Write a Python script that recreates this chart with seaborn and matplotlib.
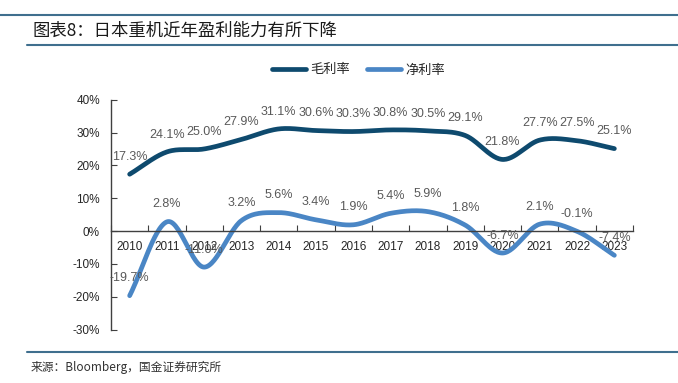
import numpy as np
import pandas as pd
import seaborn as sns
import matplotlib.pyplot as plt
from matplotlib.lines import Line2D
from matplotlib.ticker import FixedLocator, FuncFormatter

# data
years = ['2010', '2011', '2012', '2013', '2014', '2015', '2016',
         '2017', '2018', '2019', '2020', '2021', '2022', '2023']
gross_margin = [17.3, 24.1, 25.0, 27.9, 31.1, 30.6, 30.3, 30.8, 30.5, 29.1, 21.8, 27.7, 27.5, 25.1]
net_margin = [-19.7, 2.8, -11.0, 3.2, 5.6, 3.4, 1.9, 5.4, 5.9, 1.8, -6.7, 2.1, -0.1, -7.4]
series_names = ['毛利率', '净利率']
colors = ['#0E4A6E', '#4A86C5']
y_ticks = [-30, -20, -10, 0, 10, 20, 30, 40]

sns.set_style('ticks')
plt.rcParams['font.family'] = ['Liberation Sans', 'Noto Sans CJK SC', 'DejaVu Sans']
plt.rcParams['axes.unicode_minus'] = False


def smooth(vals, n=30):
    # catmull-rom style smoothing like excel's "smoothed line"
    p = np.array(vals, dtype=float)
    p = np.concatenate([[2 * p[0] - p[1]], p, [2 * p[-1] - p[-2]]])
    xs, ys = [], []
    for i in range(1, len(p) - 2):
        t = np.linspace(0, 1, n, endpoint=False)
        p0, p1, p2, p3 = p[i - 1], p[i], p[i + 1], p[i + 2]
        y = 0.5 * ((2 * p1) + (-p0 + p2) * t + (2 * p0 - 5 * p1 + 4 * p2 - p3) * t ** 2
                   + (-p0 + 3 * p1 - 3 * p2 + p3) * t ** 3)
        xs.extend(i - 1 + t)
        ys.extend(y)
    xs.append(len(vals) - 1)
    ys.append(vals[-1])
    return np.array(xs), np.array(ys)


fig = plt.figure(figsize=(6.78, 3.83), dpi=100)
ax = fig.add_axes([111 / 678, 1 - 329.5 / 383, (633 - 111) / 678, (329.5 - 99.7) / 383])

for name, vals, c in zip(series_names, [gross_margin, net_margin], colors):
    sx, sy = smooth(vals)
    df = pd.DataFrame({'x': sx, 'y': sy})
    sns.lineplot(data=df, x='x', y='y', ax=ax, color=c, linewidth=3.4, sort=False)
    for i, v in enumerate(vals):
        ax.annotate(f'{v:.1f}%', (i, v), xytext=(0, 12.5), textcoords='offset points',
                    ha='center', va='center', fontsize=9, color='#595959')

ax.set_xlim(-0.5, len(years) - 0.5)
ax.set_ylim(-30, 40)
ax.set_xlabel('')
ax.set_ylabel('')

ax.spines['right'].set_visible(False)
ax.spines['top'].set_visible(False)
ax.spines['bottom'].set_position(('data', 0))
for s in ['left', 'bottom']:
    ax.spines[s].set_color('#404040')
    ax.spines[s].set_linewidth(1.0)

ax.set_yticks(y_ticks)
ax.yaxis.set_major_formatter(FuncFormatter(lambda v, p: f'{v:.0f}%'))
ax.tick_params(axis='y', direction='in', length=4, color='#404040', labelsize=8.5, pad=8)

ax.xaxis.set_major_locator(FixedLocator(np.arange(-0.5, len(years), 1.0)))
ax.xaxis.set_minor_locator(FixedLocator(np.arange(len(years))))
ax.xaxis.set_major_formatter(FuncFormatter(lambda v, p: ''))
ax.xaxis.set_minor_formatter(FuncFormatter(lambda v, p: years[int(round(v))]))
ax.tick_params(axis='x', which='major', direction='in', length=4, color='#404040')
ax.tick_params(axis='x', which='minor', length=0, labelsize=8.5, pad=7)

handles = [Line2D([0], [0], color=c, linewidth=3.4) for c in colors]
fig.legend(handles, series_names, loc='center', bbox_to_anchor=(358.5 / 678, 1 - 70 / 383),
           ncol=2, frameon=False, handlelength=2.6, columnspacing=1.3,
           handletextpad=0.3, prop={'family': 'Noto Sans CJK SC', 'size': 9.5})

# header / footer rules and text
fig.add_artist(Line2D([0, 1], [1 - 15 / 383] * 2, color='#3F6F8E', linewidth=1.5))
fig.add_artist(Line2D([27 / 678, 1], [1 - 45 / 383] * 2, color='#3F6F8E', linewidth=1.5))
fig.add_artist(Line2D([27 / 678, 1], [1 - 352 / 383] * 2, color='#3F6F8E', linewidth=1.5))
fig.text(32 / 678, 1 - 31 / 383, '图表8：日本重机近年盈利能力有所下降', fontsize=12.5, color='#1A1A1A',
         family='Noto Sans CJK SC', fontweight='medium', va='center', ha='left', style='italic')
fig.text(31 / 678, 1 - 367 / 383, '来源：Bloomberg，国金证券研究所', fontsize=8.5, color='#333333',
         family=['Noto Sans CJK SC', 'DejaVu Sans'], va='center', ha='left')

plt.savefig('out.png', dpi=100)
